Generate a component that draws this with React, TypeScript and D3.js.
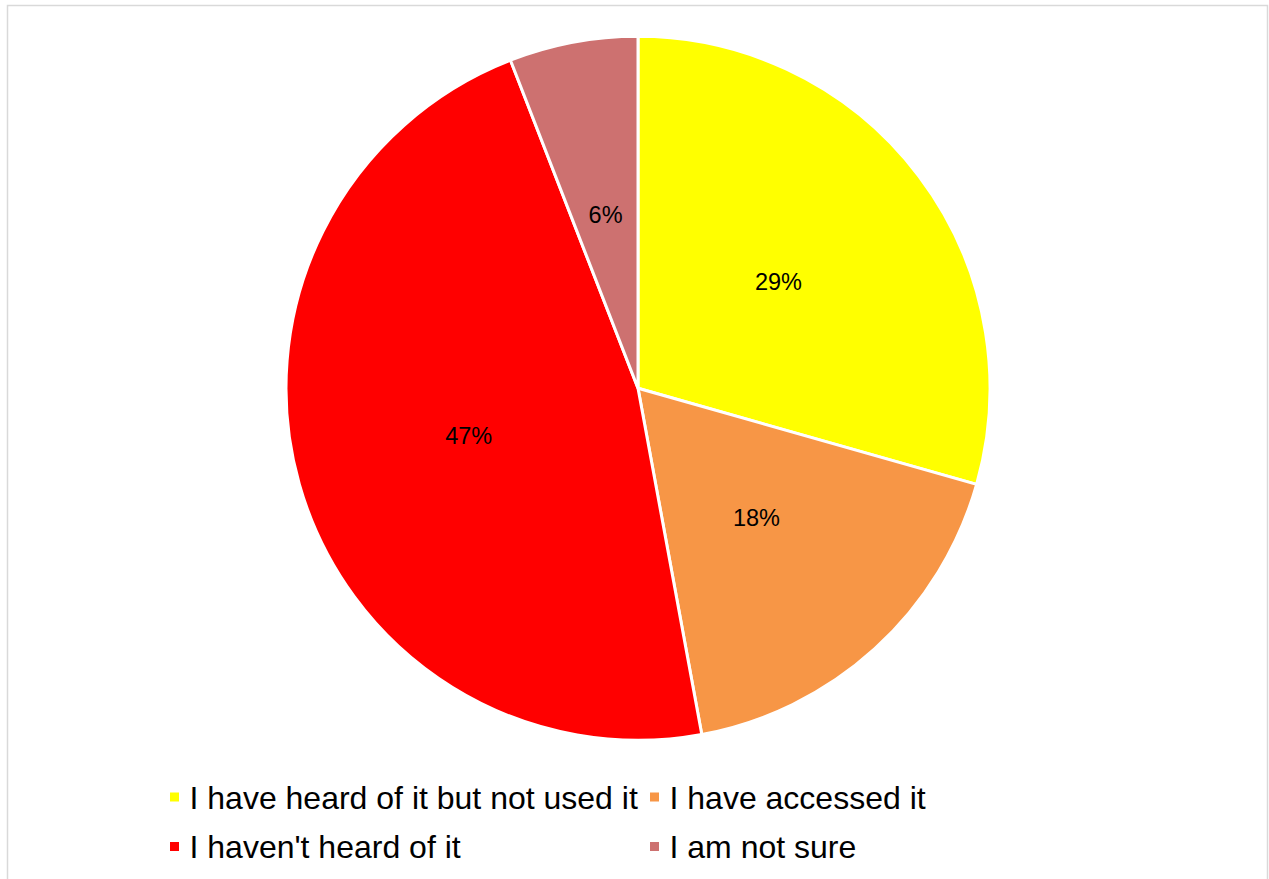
import React from "react";
import * as d3 from "d3";

const categories = [
  "I have heard of it but not used it",
  "I have accessed it",
  "I haven't heard of it",
  "I am not sure",
];
const values = [29.4, 17.7, 47.0, 5.9];
const labels = ["29%", "18%", "47%", "6%"];
const colors = ["#FFFF00", "#F79646", "#FF0000", "#CD7170"];

const W = 1269;
const H = 879;
const CX = 638;
const CY = 388.3;
const R = 352;
const FONT = "'Liberation Sans', Arial, sans-serif";

export default function App() {
  const pie = d3
    .pie<number>()
    .sort(null)
    .value((d) => d);
  const arcs = pie(values);
  const arcGen = d3.arc<d3.PieArcDatum<number>>().innerRadius(0).outerRadius(R);

  const legendX = [170, 650];
  const legendY = [808.5, 858];

  return (
    <svg
      width={W}
      height={H}
      style={{ position: "absolute", left: 0, top: 0, background: "#fff" }}
    >
      <rect x={7.5} y={5.5} width={1260} height={900} fill="#fff" stroke="#D9D9D9" strokeWidth={1.5} />
      <g transform={`translate(${CX},${CY})`}>
        {arcs.map((a, i) => (
          <path key={i} d={arcGen(a) || ""} fill={colors[i]} stroke="#fff" strokeWidth={3} strokeLinejoin="round" />
        ))}
        {arcs.map((a, i) => {
          const [x, y] = arcGen.centroid(a);
          return (
            <text
              key={"l" + i}
              x={x}
              y={y}
              textAnchor="middle"
              dominantBaseline="central"
              fontFamily={FONT}
              fontSize={23.5}
              fill="#000"
            >
              {labels[i]}
            </text>
          );
        })}
      </g>
      {categories.map((c, i) => {
        const col = i % 2;
        const row = Math.floor(i / 2);
        const x = legendX[col];
        const y = legendY[row];
        return (
          <g key={"lg" + i}>
            <rect x={x} y={y - 16} width={9} height={9} fill={colors[i]} />
            <text x={x + 19.5} y={y} fontFamily={FONT} fontSize={32} fill="#000">
              {c}
            </text>
          </g>
        );
      })}
    </svg>
  );
}
